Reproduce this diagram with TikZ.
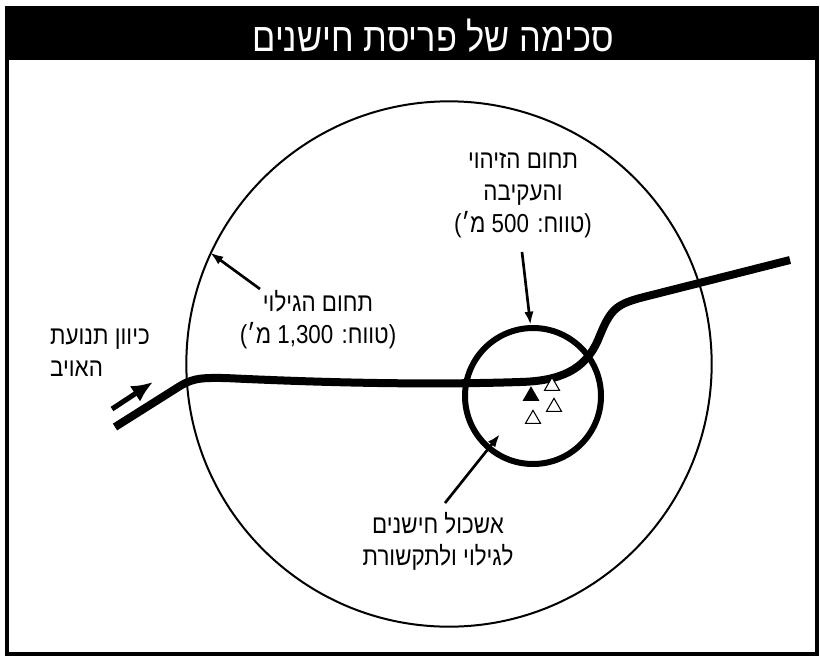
\documentclass[tikz,border=0pt]{standalone}
\usepackage{fontspec}
\newfontfamily\heb[Script=Hebrew,FakeStretch=0.86]{Liberation Sans}
\TeXXeTstate=1
\usetikzlibrary{arrows.meta,shapes.geometric}
\newcommand{\rtl}[1]{\beginR #1\endR}

\begin{document}
\begin{tikzpicture}[x=0.75pt,y=-0.75pt,
  label/.style={font=\heb\fontsize{19.5}{24}\selectfont,align=center,inner sep=0pt},
  pointer/.style={line width=2pt,-{Latex[length=10pt,width=7pt]}},
  sensor/.style={regular polygon,regular polygon sides=3,minimum size=13pt,
    inner sep=0pt,draw,line width=0.8pt}]
\useasboundingbox (0,0) rectangle (820,657);
% frame and title
\fill[black] (5,6) rectangle (818,60);
\draw[line width=3pt] (7,8) rectangle (817,654);
\node[text=white,font=\heb\fontsize{30}{34}\selectfont] (title) at (433,36)
  {\rtl{סכימה של פריסת חישנים}};
% ranges
\node[circle,draw,line width=1.5pt,minimum size=394pt,inner sep=0pt] (detect) at (449,364) {};
\node[circle,draw,line width=4.5pt,minimum size=102pt,inner sep=0pt] (track) at (533,396) {};
% road
\draw[line width=6pt] (115,427) -- (180,386) .. controls (195,377) and (205,378) .. (225,378)
  .. controls (330,383) and (430,385) .. (520,382)
  .. controls (560,381) and (585,370) .. (598,340)
  .. controls (610,310) and (615,305) .. (640,298) -- (790,260);
% sensors
\node[sensor,fill=black] (s1) at (531,396) {};
\node[sensor,fill=white] (s2) at (552,386) {};
\node[sensor,fill=white] (s3) at (554,407) {};
\node[sensor,fill=white] (s4) at (533,419) {};
% labels
\node[label] (zihui) at (523,195)
  {\rtl{תחום הזיהוי}\\ \rtl{והעקיבה}\\ \rtl{(טווח: \beginL500\endL{} מ׳)}};
\node[label] (gilui) at (318,320)
  {\rtl{תחום הגילוי}\\ \rtl{(טווח: \beginL1,300\endL{} מ׳)}};
\node[label,align=left] (enemy) at (100,353)
  {\rtl{כיוון תנועת}\\ \rtl{האויב}};
\node[label] (cluster) at (438,541)
  {\rtl{אשכול חישנים}\\ \rtl{לגילוי ולתקשורת}};
% pointers
\coordinate (ztail) at (522,252);
\coordinate (gtail) at (260,289);
\coordinate (ctail) at (445,503);
\coordinate (ctip) at (500,434);
\coordinate (etail) at (112,409);
\coordinate (etip) at (153,382);
\draw[pointer] (ztail) -- (track.92);
\draw[pointer] (gtail) -- (detect.155.8);
\draw[pointer] (ctail) -- (ctip);
\draw[line width=3.8pt,-{Latex[length=16pt,width=14pt]}] (etail) -- (etip);
\end{tikzpicture}
\end{document}
